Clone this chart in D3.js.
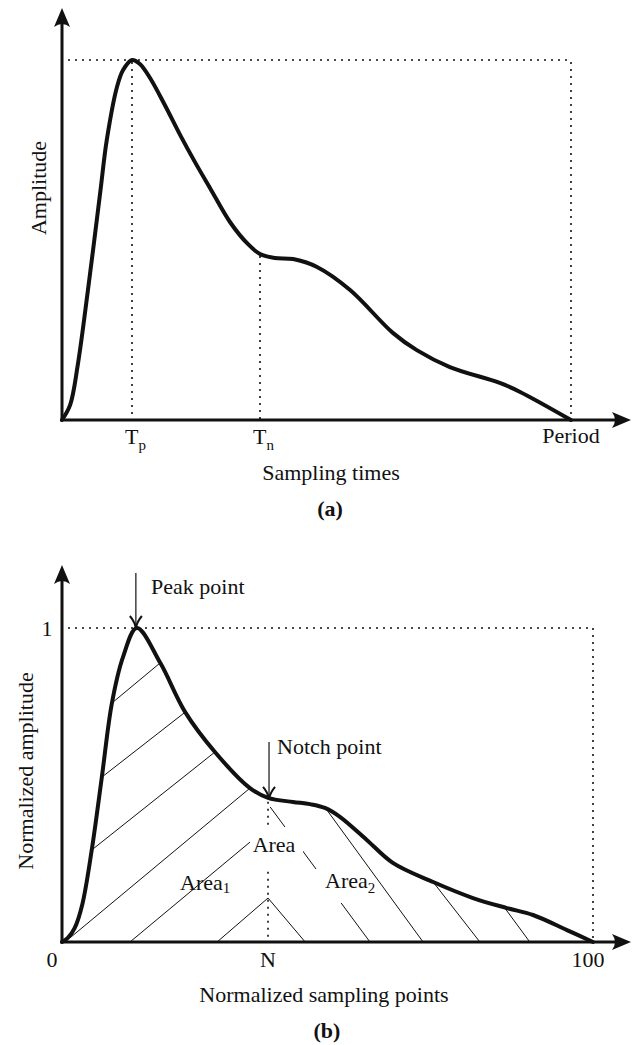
<!DOCTYPE html>
<html>
<head>
<meta charset="utf-8">
<script src="https://cdn.jsdelivr.net/npm/d3@7"></script>
<style>
  html, body { margin: 0; padding: 0; background: #fff; }
  svg { display: block; }
</style>
</head>
<body>
<div id="chart"></div>
<script>
// Pulse waveform (a) and normalized waveform (b)

// (a) sampling time in % of period, amplitude relative to peak
const topX = [0, 1.6, 3.1, 5.1, 7.5, 8.8, 10.8, 12.0, 13.75, 15.3, 17.3, 20.2, 23.2, 26.1, 29.1, 33.0, 36.5, 38.9, 41.8, 45.4, 50.1, 56.6, 65.0, 69.7, 76.2, 86.0, 90.0, 100];
const topY = [0, 0.042, 0.153, 0.361, 0.631, 0.778, 0.925, 0.972, 1.0, 0.989, 0.950, 0.875, 0.792, 0.717, 0.644, 0.550, 0.489, 0.461, 0.450, 0.447, 0.425, 0.361, 0.242, 0.194, 0.147, 0.103, 0.078, 0];
const topMarks = ['T', 'T', 'Period'];
const topMarkSubs = ['p', 'n', ''];
const topMarkX = [13.75, 38.9, 100];
const topMarkY = [1.0, 0.461, 1.0];

// (b) normalized sampling points 0..100, normalized amplitude 0..1
const botX = [0, 1.1, 2.4, 3.8, 5.6, 7.5, 9.4, 11.5, 14.1, 18.5, 23.2, 28.8, 35.4, 38.8, 43.5, 46.7, 49.5, 52.4, 57.4, 62.3, 69.9, 77.4, 83.8, 88.7, 95.1, 100];
const botY = [0, 0.013, 0.045, 0.118, 0.293, 0.525, 0.761, 0.908, 1.0, 0.889, 0.732, 0.605, 0.490, 0.459, 0.446, 0.439, 0.427, 0.398, 0.325, 0.252, 0.191, 0.140, 0.108, 0.086, 0.038, 0];
const botTickLabels = ['0', 'N', '100'];
const botTickX = [0, 38.8, 100];
const peakX = 14.1, notchX = 38.8, notchY = 0.459;

// hatching [x1, y1, x2, y2] in data units
const hatchArea1 = [
  [9.4, 0.761, 18.5, 0.889],
  [7.5, 0.525, 23.2, 0.732],
  [5.6, 0.293, 28.8, 0.605],
  [1.5, 0.013, 35.4, 0.490],
  [12.8, 0, 38.8, 0.366],
  [29.2, 0, 38.8, 0.140],
  [38.8, 0.140, 45.8, 0]
];
const hatchArea2 = [
  [39.2, 0.43, 58.0, 0],
  [49.9, 0.420, 68.0, 0],
  [69.9, 0.191, 78.7, 0],
  [83.4, 0.108, 88.1, 0]
];

const W = 632, H = 1045;
const FONT = '"Liberation Serif", "Times New Roman", serif';
const INK = '#111';

const svg = d3.select('#chart').append('svg')
  .attr('width', W).attr('height', H)
  .style('font-family', FONT);

const xTop = d3.scaleLinear().domain([0, 100]).range([62, 571]);
const yTop = d3.scaleLinear().domain([0, 1]).range([420, 60]);
const xBot = d3.scaleLinear().domain([0, 100]).range([62, 593]);
const yBot = d3.scaleLinear().domain([0, 1]).range([942, 628]);

const line = d3.line().curve(d3.curveCatmullRom.alpha(0.5));

function dotted(x1, y1, x2, y2) {
  svg.append('line')
    .attr('x1', x1).attr('y1', y1).attr('x2', x2).attr('y2', y2)
    .attr('stroke', INK).attr('stroke-width', 1.6)
    .attr('stroke-dasharray', '2,5');
}

// stealth-like axis arrows
function axes(xs, ys, topTip) {
  const x0 = xs.range()[0], y0 = ys.range()[0];
  const rightTip = W - 1;
  svg.append('line')
    .attr('x1', x0).attr('y1', y0).attr('x2', x0).attr('y2', topTip + 12)
    .attr('stroke', INK).attr('stroke-width', 3);
  svg.append('line')
    .attr('x1', x0 - 1.5).attr('y1', y0).attr('x2', rightTip - 12).attr('y2', y0)
    .attr('stroke', INK).attr('stroke-width', 3);
  svg.append('path')
    .attr('d', `M${x0},${topTip} L${x0 + 8},${topTip + 19} Q${x0},${topTip + 13} ${x0 - 8},${topTip + 19} Z`)
    .attr('fill', INK);
  svg.append('path')
    .attr('d', `M${rightTip},${y0} L${rightTip - 19},${y0 - 8} Q${rightTip - 13},${y0} ${rightTip - 19},${y0 + 8} Z`)
    .attr('fill', INK);
}

function thinArrow(x, yFrom, yTo) {
  svg.append('line')
    .attr('x1', x).attr('y1', yFrom).attr('x2', x).attr('y2', yTo - 2)
    .attr('stroke', INK).attr('stroke-width', 1.2);
  svg.append('path')
    .attr('d', `M${x - 6},${yTo - 12} Q${x - 1},${yTo - 6} ${x},${yTo} Q${x + 1},${yTo - 6} ${x + 6},${yTo - 12}`)
    .attr('fill', 'none').attr('stroke', INK).attr('stroke-width', 2);
}

function label(x, y, txt, opts = {}) {
  const t = svg.append('text')
    .attr('x', x).attr('y', y)
    .attr('text-anchor', opts.anchor || 'start')
    .style('font-size', (opts.size || 22) + 'px')
    .style('font-weight', opts.bold ? 700 : 400)
    .style('fill', INK);
  t.append('tspan').text(txt);
  if (opts.sub) {
    t.append('tspan')
      .attr('dy', opts.subDy || 5)
      .style('font-size', '15px')
      .text(opts.sub);
  }
  if (opts.rotate) t.attr('transform', `rotate(-90 ${x} ${y})`);
  return t;
}

// ---------- (a) ----------
dotted(68, yTop(1), xTop(100), yTop(1));
topMarkX.forEach((v, i) => {
  dotted(xTop(v), yTop(topMarkY[i]) + 2, xTop(v), yTop(0));
});

axes(xTop, yTop, 8);

svg.append('path')
  .datum(topX.map((v, i) => [xTop(v), yTop(topY[i])]))
  .attr('d', line)
  .attr('fill', 'none').attr('stroke', INK).attr('stroke-width', 4)
  .attr('stroke-linejoin', 'round').attr('stroke-linecap', 'round');

topMarks.forEach((m, i) => {
  if (topMarkSubs[i]) {
    label(xTop(topMarkX[i]) - 7, 444, m, { sub: topMarkSubs[i], subDy: 6 });
  } else {
    label(xTop(topMarkX[i]), 443, m, { anchor: 'middle' });
  }
});

label(331, 480, 'Sampling times', { anchor: 'middle' });
label(330, 516, '(a)', { anchor: 'middle', bold: true });
label(46, 188, 'Amplitude', { anchor: 'middle', rotate: true });

// ---------- (b) ----------
const gHatch = svg.append('g');
hatchArea1.concat(hatchArea2).forEach(h => {
  gHatch.append('line')
    .attr('x1', xBot(h[0])).attr('y1', yBot(h[1]))
    .attr('x2', xBot(h[2])).attr('y2', yBot(h[3]))
    .attr('stroke', INK).attr('stroke-width', 1);
});

dotted(68, yBot(1), xBot(100), yBot(1));
dotted(xBot(100), yBot(1), xBot(100), yBot(0));
dotted(xBot(notchX), yBot(notchY) + 4, xBot(notchX), yBot(0));

axes(xBot, yBot, 565);

svg.append('path')
  .datum(botX.map((v, i) => [xBot(v), yBot(botY[i])]))
  .attr('d', line)
  .attr('fill', 'none').attr('stroke', INK).attr('stroke-width', 4)
  .attr('stroke-linejoin', 'round').attr('stroke-linecap', 'round');

thinArrow(xBot(peakX) - 1, 573, yBot(1));
thinArrow(xBot(notchX) + 1, 742, yBot(notchY) + 1);
label(151, 594, 'Peak point');
label(277, 754, 'Notch point');

// labels that sit on white patches over the hatching
function patch(x1, y1, x2, y2) {
  svg.append('rect')
    .attr('x', x1).attr('y', y1).attr('width', x2 - x1).attr('height', y2 - y1)
    .attr('fill', '#fff');
}
patch(250, 827, 303, 867);
label(274, 852, 'Area', { anchor: 'middle' });
patch(313, 869, 352, 903);
label(325, 888, 'Area', { sub: '2', subDy: 5 });
label(180, 890, 'Area', { sub: '1', subDy: 3 });

label(47, yBot(1) + 8, '1', { anchor: 'middle' });
botTickLabels.forEach((t, i) => {
  const dx = i === 0 ? -10 : (i === 2 ? -5 : 0);
  label(xBot(botTickX[i]) + dx, 967, t, { anchor: 'middle' });
});

label(324, 1002, 'Normalized sampling points', { anchor: 'middle' });
label(327, 1038, '(b)', { anchor: 'middle', bold: true });
label(33, 771, 'Normalized amplitude', { anchor: 'middle', rotate: true });
</script>
</body>
</html>
